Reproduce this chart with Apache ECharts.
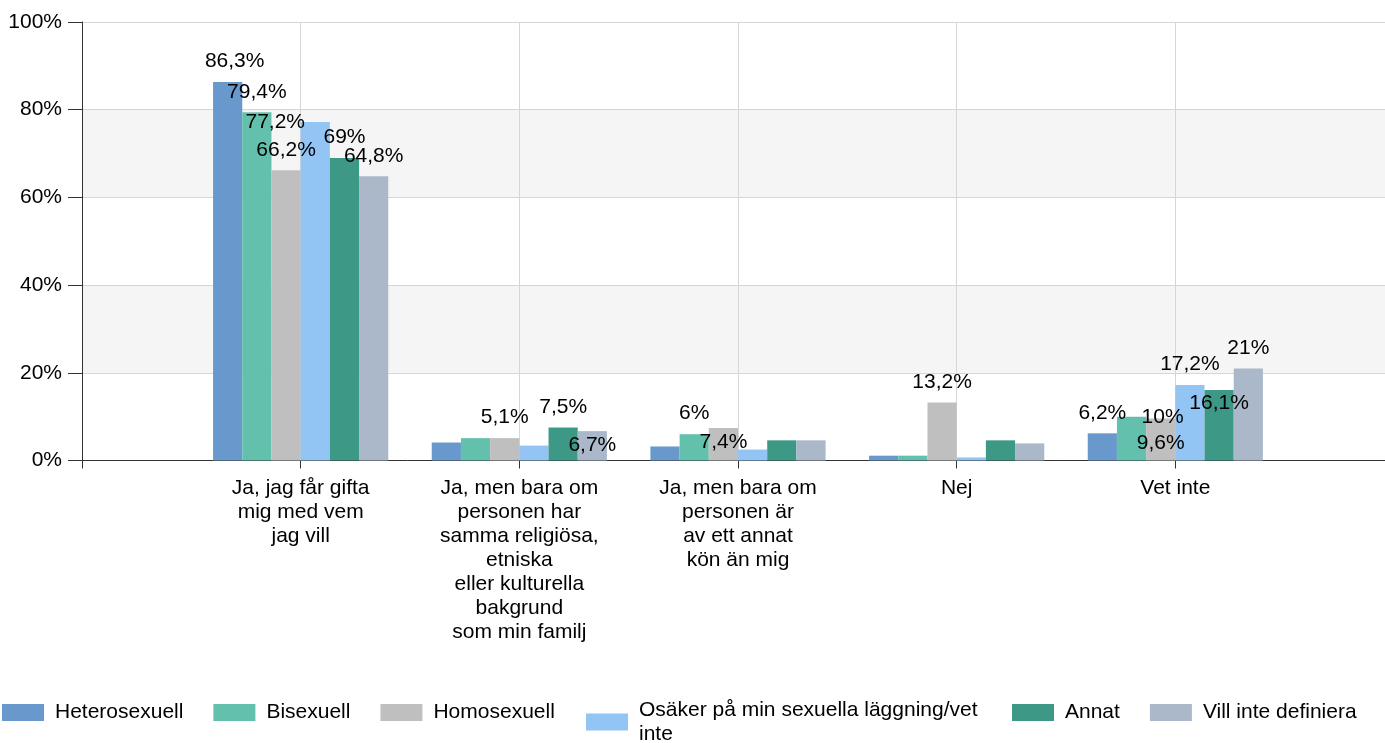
<!DOCTYPE html>
<html>
<head>
<meta charset="utf-8">
<script src="https://cdn.jsdelivr.net/npm/echarts@6/dist/echarts.min.js"></script>
<style>
  html, body { margin: 0; padding: 0; background: #fff; }
  #main { width: 1385px; height: 743px; }
</style>
</head>
<body>
<div id="main"></div>
<script>
// kategorier (x-axeln)
var categories = [
  'Ja, jag får gifta\nmig med vem\njag vill',
  'Ja, men bara om\npersonen har\nsamma religiösa,\netniska\neller kulturella\nbakgrund\nsom min familj',
  'Ja, men bara om\npersonen är\nav ett annat\nkön än mig',
  'Nej',
  'Vet inte'
];

// serier, en siffra per kategori (procent)
var seriesNames = ['Heterosexuell', 'Bisexuell', 'Homosexuell',
  'Osäker på min sexuella läggning/vet inte', 'Annat', 'Vill inte definiera'];
var hetero = [86.3, 4.1, 3.2, 1.1, 6.2];
var bi = [79.4, 5.1, 6.0, 1.1, 10];
var homo = [66.2, 5.1, 7.4, 13.2, 9.6];
var osaker = [77.2, 3.4, 2.5, 0.7, 17.2];
var annat = [69, 7.5, 4.6, 4.6, 16.1];
var villInte = [64.8, 6.7, 4.6, 3.9, 21];

var yTicks = [0, 20, 40, 60, 80, 100];

var colors = ['#6999cc', '#63c0ac', '#bfbfbf', '#92c4f4', '#3e9886', '#abb8ca'];

// etiketter som inte visas: [kategori, serie]
var hiddenLabels = [[1,0],[1,1],[1,3],[2,0],[2,3],[2,4],[2,5],[3,0],[3,1],[3,3],[3,4],[3,5]];
// flyttade etiketter
var labelShift = {'0-0':[7,0],'0-3':[-40,21],'1-5':[0,35],'2-2':[0,35],'4-1':[31,21],'4-2':[0,45],'4-4':[0,34]};

var FONT = '"Liberation Sans", Arial, sans-serif';

function fmt(v){
  return String(v).replace('.', ',') + '%';
}

function isHidden(c, s){
  for (var i = 0; i < hiddenLabels.length; i++) {
    if (hiddenLabels[i][0] == c && hiddenLabels[i][1] == s) return true;
  }
  return false;
}

var allValues = [hetero, bi, homo, osaker, annat, villInte];

// tom kategori först och sist
var axisData = [''].concat(categories).concat(['']);

var series = [];
for (var s = 0; s < allValues.length; s++) {
  var data = [null];
  for (var c = 0; c < allValues[s].length; c++) {
    var item = { value: allValues[s][c] };
    if (isHidden(c, s)) {
      item.label = { show: false };
    } else if (labelShift[c + '-' + s]) {
      item.label = { offset: labelShift[c + '-' + s] };
    }
    data.push(item);
  }
  data.push(null);
  series.push({
    name: seriesNames[s],
    type: 'bar',
    barWidth: 29.2,
    barGap: '0%',
    itemStyle: { color: colors[s] },
    label: {
      show: true,
      position: 'top',
      distance: 10,
      color: '#000',
      fontSize: 21,
      fontFamily: FONT,
      formatter: function(p){ return fmt(p.value); }
    },
    data: data
  });
}

var legendText = { color: '#000', fontSize: 21, fontFamily: FONT, padding: [0, 0, 0, 6] };

var myChart = echarts.init(document.getElementById('main'));

var option = {
  animation: false,
  color: colors,
  grid: { left: 82, right: -9, top: 22, bottom: 282.5, containLabel: false, outerBoundsMode: 'none' },
  legend: [
    {
      data: seriesNames.slice(0, 3),
      left: 2, top: 702, padding: 0,
      itemWidth: 42, itemHeight: 17, itemGap: 30,
      icon: 'rect',
      textStyle: legendText
    },
    {
      data: [seriesNames[3]],
      left: 586, top: 698, padding: 0,
      itemWidth: 42, itemHeight: 17,
      icon: 'rect',
      formatter: function(){ return 'Osäker på min sexuella läggning/vet\ninte'; },
      textStyle: { color: '#000', fontSize: 21, fontFamily: FONT, lineHeight: 24, padding: [0, 0, 0, 6] }
    },
    {
      data: seriesNames.slice(4),
      left: 1012, top: 702, padding: 0,
      itemWidth: 42, itemHeight: 17, itemGap: 30,
      icon: 'rect',
      textStyle: legendText
    }
  ],
  xAxis: {
    type: 'category',
    data: axisData,
    boundaryGap: false,
    axisLine: { lineStyle: { color: '#333', width: 1 } },
    axisTick: { show: true, length: 8, interval: 0, lineStyle: { color: '#333' } },
    splitLine: { show: true, interval: 0, lineStyle: { color: '#d6d6d6' } },
    axisLabel: {
      interval: 0,
      color: '#000',
      fontSize: 21,
      lineHeight: 24,
      fontFamily: FONT,
      margin: 16,
      align: 'center'
    }
  },
  yAxis: {
    type: 'value',
    min: yTicks[0],
    max: yTicks[yTicks.length - 1],
    interval: 20,
    axisLine: { show: true, lineStyle: { color: '#333' } },
    axisTick: { show: true, length: 14, lineStyle: { color: '#333' } },
    splitLine: { show: true, lineStyle: { color: '#d6d6d6' } },
    splitArea: { show: true, areaStyle: { color: ['#ffffff', '#f5f5f5'] } },
    axisLabel: {
      color: '#000',
      fontSize: 21,
      fontFamily: FONT,
      margin: 20,
      formatter: '{value}%'
    }
  },
  series: series
};

myChart.setOption(option);
</script>
</body>
</html>
